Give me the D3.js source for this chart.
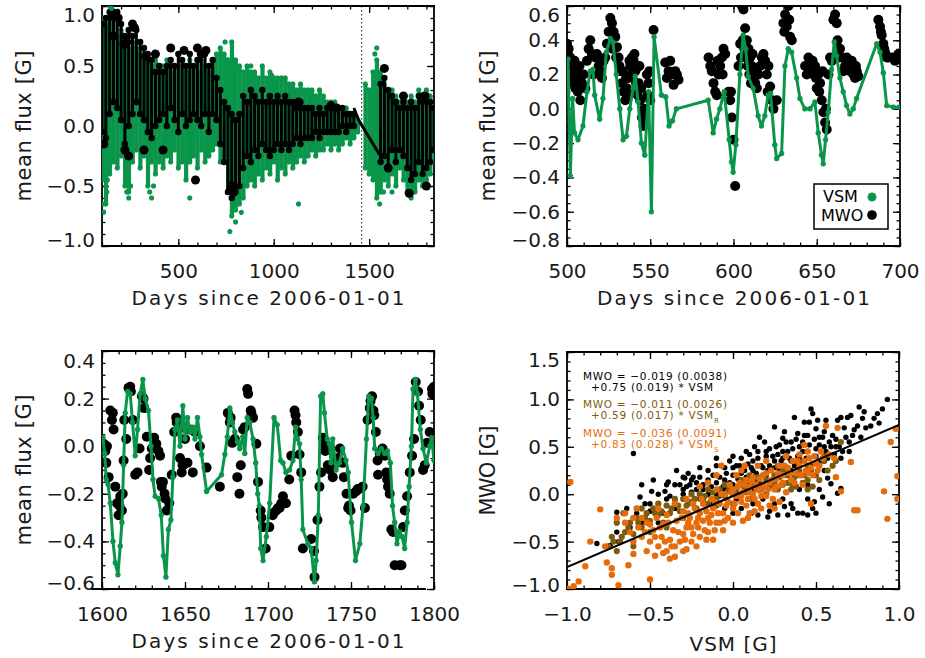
<!DOCTYPE html>
<html><head><meta charset="utf-8">
<script src="https://cdn.jsdelivr.net/npm/d3@7"></script>
<style>body{margin:0;background:#fff}svg{display:block}</style>
</head><body><svg id="c" width="925" height="658"></svg>
<script>
// ---------------- DATA ----------------
// Panel 1 (days 100-1840): VSM / MWO daily spread per 20-day bin
const p1Days = [100,120,140,160,180,200,220,240,260,280,300,320,340,360,380,400,420,440,460,480,500,520,540,560,580,600,620,640,660,680,700,720,740,760,780,800,820,840,860,880,900,920,940,960,980,1000,1020,1040,1060,1080,1100,1120,1140,1160,1180,1200,1220,1240,1260,1280,1300,1320,1340,1360,1380,1400,1420,1440,1460,1480,1500,1520,1540,1560,1580,1600,1620,1640,1660,1680,1700,1720,1740,1760,1780,1800,1820,1840];
const vsmLo = [-0.45,-0.65,-0.4,-0.3,-0.35,-0.25,-0.5,-0.55,-0.3,-0.2,-0.35,-0.25,-0.5,-0.3,-0.4,-0.3,-0.35,-0.25,-0.3,-0.2,-0.35,-0.3,-0.45,-0.3,-0.25,-0.35,-0.2,-0.3,-0.25,-0.2,-0.15,-0.3,-0.25,-0.55,-0.75,-0.7,-0.65,-0.6,-0.5,-0.45,-0.5,-0.4,-0.45,-0.35,-0.4,-0.3,-0.45,-0.35,-0.4,-0.3,-0.35,-0.3,-0.25,-0.3,-0.25,-0.2,-0.25,-0.2,-0.2,-0.15,-0.2,-0.15,-0.2,-0.15,-0.1,-0.15,-0.1,-0.05,null,-0.35,-0.4,-0.45,-0.6,-0.55,-0.45,-0.5,-0.4,-0.5,-0.35,-0.45,-0.55,-0.6,-0.55,-0.45,-0.5,-0.45,-0.4,-0.3];
const vsmHi = [0.9,0.85,0.95,0.9,0.75,0.8,0.7,0.65,0.7,0.65,0.6,0.55,0.6,0.5,0.55,0.45,0.5,0.55,0.45,0.5,0.5,0.55,0.45,0.55,0.5,0.45,0.55,0.5,0.45,0.55,0.6,0.65,0.6,0.55,0.7,0.55,0.5,0.45,0.5,0.45,0.45,0.4,0.5,0.4,0.45,0.4,0.4,0.4,0.4,0.35,0.35,0.3,0.35,0.3,0.3,0.3,0.25,0.3,0.25,0.2,0.2,0.2,0.15,0.15,0.15,0.1,0.1,0.05,null,0.35,0.3,0.45,0.55,0.45,0.35,0.3,0.3,0.25,0.2,0.25,0.2,0.25,0.2,0.3,0.25,0.3,0.25,0.15];
const mwoLo = [-0.05,-0.1,0.1,0.2,0.15,0.05,-0.15,0.0,0.1,0.2,0.1,0.05,-0.05,-0.1,0.0,0.05,0.1,0.0,0.15,0.05,-0.05,0.1,0.0,0.05,0.1,0.05,0.0,0.1,-0.05,0.1,0.05,-0.15,-0.3,-0.55,-0.6,-0.55,-0.5,-0.35,-0.25,-0.3,-0.2,-0.25,-0.15,-0.2,-0.25,-0.2,-0.15,-0.2,-0.15,-0.2,-0.15,-0.1,-0.15,-0.1,-0.1,-0.1,-0.05,-0.1,-0.05,-0.05,-0.05,-0.05,-0.05,0.0,-0.05,0.0,0.0,null,null,null,null,null,null,-0.3,-0.25,-0.35,-0.2,-0.3,-0.2,-0.25,-0.35,-0.45,-0.4,-0.3,-0.4,-0.35,-0.3,-0.2];
const mwoHi = [0.85,0.9,0.95,0.9,0.95,0.85,0.75,0.8,0.75,0.8,0.7,0.65,0.6,0.55,0.45,0.5,0.45,0.5,0.55,0.5,0.6,0.55,0.5,0.6,0.5,0.55,0.6,0.6,0.5,0.55,0.4,0.3,0.2,0.15,0.1,0.05,0.1,0.25,0.2,0.3,0.25,0.2,0.3,0.2,0.25,0.2,0.25,0.2,0.25,0.2,0.2,0.15,0.2,0.15,0.15,0.15,0.1,0.15,0.1,0.15,0.15,0.15,0.15,0.15,0.1,0.1,0.1,null,null,null,null,null,null,0.35,0.4,0.3,0.25,0.2,0.15,0.2,0.15,0.2,0.15,0.25,0.2,0.25,0.2,0.15];
const p1VsmOut = [[105,-0.65],[108,-0.72],[125,-0.55],[128,-0.45],[230,-0.55],[240,-0.6],[250,-0.5],[350,-0.55],[360,-0.6],[370,-0.5],[560,-0.6],[770,-0.88],[800,-0.8],[830,-0.72],[1130,-0.65],[1555,-0.65],[1575,-0.55],[1620,-0.55],[880,0.5],[990,0.42],[745,0.7],[760,0.55],[1540,0.65],[1530,0.6],[140,1.0],[150,0.98]];
const p1MwoOut = [[150,0.95],[170,0.93],[185,0.9],[260,0.85],[270,0.82],[230,0.7],[380,0.6],[460,0.65],[530,0.63],[600,0.65],[620,0.6],[645,0.63],[160,0.75],[215,0.68],[330,0.58],[590,-0.45],[240,-0.25],[220,-0.2],[320,-0.2],[420,-0.2],[780,-0.5],[790,-0.55],[1300,0.17],[1330,0.15],[1580,0.48],[1680,0.25],[1790,0.25],[1800,-0.5],[1710,-0.56],[1600,-0.35],[110,-0.15],[1130,0.2]];
const p1MwoGapLine = [[1420,0.15],[1445,0.05],[1555,-0.24]];
const boundaryDay = 1461;

// Panel 2 (days 500-700)
const vsm2 = [[500.6,0.29],[502,-0.39],[503.4,0.06],[504.5,-0.14],[506.6,-0.18],[509.6,-0.1],[512,0.1],[514,0.22],[515.6,0.23],[516.6,0.08],[519.6,-0.06],[521.6,0.06],[523.6,0.33],[526,0.41],[527.6,0.39],[529.6,0.2],[531.7,0.0],[533.7,-0.18],[535.7,-0.16],[537.7,0.0],[539.7,0.12],[541,0.19],[542.7,0.04],[544.7,-0.2],[546.7,-0.27],[549,0.1],[550.7,-0.6],[552.3,0.42],[556.7,0.08],[559.3,0.07],[561.3,-0.1],[563.3,-0.07],[565.7,0.0],[584.8,0.05],[587.8,-0.14],[589.8,-0.06],[591.8,0.0],[594.4,0.1],[597.4,-0.18],[598.8,-0.31],[599.8,-0.37],[601.4,-0.21],[603.8,0.2],[605.8,0.43],[607.3,0.35],[608.8,0.19],[611.8,0.12],[614.8,-0.04],[616.8,-0.1],[618.8,-0.04],[620.8,0.08],[622.2,0.09],[624.8,-0.21],[625.9,-0.29],[628.9,-0.26],[630.9,0.25],[632.9,0.35],[634.9,0.33],[637.9,0.18],[639.9,0.06],[642.9,0.0],[645.9,0.0],[648.9,0.04],[650.9,-0.14],[652.9,-0.27],[653.9,-0.32],[655.3,-0.18],[656.9,-0.02],[658.9,0.23],[660.5,0.39],[661.9,0.31],[663.9,0.18],[665.9,0.1],[667.9,0.02],[669.9,-0.03],[671.9,0.0],[673.9,0.06],[686,0.38],[688,0.33],[690,0.21],[692,0.02],[696,0.01],[699.6,0.01]];
const mwo2 = [[500,0.38],[501,0.35],[502,0.3],[503,0.25],[504,0.2],[505,0.12],[506,0.18],[507,0.15],[508,0.05],[510,0.2],[512,0.28],[514,0.4],[515,0.32],[517,0.3],[519,0.25],[520,0.22],[522,0.28],[524,0.38],[525,0.45],[526,0.53],[527,0.5],[528,0.45],[529,0.42],[530,0.36],[531,0.3],[532,0.22],[533,0.15],[534,0.1],[535,0.05],[536,0.12],[537,0.18],[538,0.25],[539,0.3],[540,0.28],[541,0.22],[542,0.24],[543,0.15],[544,0.05],[545,-0.05],[546,-0.1],[547,-0.02],[548,0.2],[549,0.15],[550,0.05],[552,0.46],[559,0.27],[561,0.22],[563,0.2],[565,0.22],[567,0.17],[564,0.14],[585,0.3],[587,0.22],[588,0.15],[589,0.1],[590,0.08],[591,0.2],[592,0.25],[593,0.3],[594,0.35],[597,0.1],[598,0.05],[599,-0.05],[600,-0.18],[601,-0.45],[603,0.25],[604,0.38],[605,0.6],[606,0.58],[607,0.47],[608,0.4],[609,0.35],[610,0.3],[611,0.25],[612,0.2],[613,0.15],[614,0.12],[616,0.25],[618,0.32],[619,0.28],[620,0.2],[622,0.13],[624,0.0],[626,0.05],[630,0.5],[631,0.55],[632,0.48],[633,0.6],[634,0.42],[635,0.4],[643,0.25],[645,0.3],[646,0.28],[647,0.22],[648,0.2],[649,0.25],[650,0.12],[651,0.2],[652,0.15],[653,0.05],[654,-0.02],[655,-0.08],[656,-0.12],[657,0.2],[658,0.3],[660,0.52],[661,0.55],[662,0.5],[664,0.35],[665,0.3],[667,0.25],[668,0.3],[670,0.22],[672,0.2],[673,0.18],[674,0.22],[675,0.19],[687,0.52],[688,0.48],[689,0.43],[690,0.38],[691,0.33],[692,0.3],[695,0.3],[698,0.3],[700,0.3],
 [500.5,0.32],[501.5,0.25],[502.5,0.18],[503.5,0.15],[504.5,0.28],[505.5,0.22],[506.5,0.1],[507.5,0.25],[509,0.15],[511,0.12],[513,0.35],[516,0.2],[518,0.32],[521,0.18],[523,0.3],[525.5,0.38],[527.5,0.35],[529.5,0.3],[531.5,0.25],[533.5,0.22],[535.5,0.18],[536.5,0.08],[537.5,0.28],[538.5,0.2],[539.5,0.1],[540.5,0.32],[541.5,0.15],[542.5,0.08],[543.5,0.25],[544.5,0.12],[546.5,0.0],[548.5,0.08],[549.5,0.22],[560,0.18],[562,0.28],[566,0.2],[586,0.25],[590.5,0.28],[593.5,0.2],[595,0.32],[598.5,0.1],[604.5,0.3],[605.5,0.4],[606.5,0.35],[607.5,0.3],[608.5,0.25],[609.5,0.2],[610.5,0.15],[611.5,0.32],[613.5,0.22],[615,0.2],[617,0.3],[620.5,0.1],[621,0.25],[623,0.05],[630.5,0.45],[633.5,0.52],[644,0.2],[645.5,0.22],[647.5,0.28],[649.5,0.18],[651.5,0.1],[653.5,0.22],[655.5,0.0],[659,0.28],[662.5,0.4],[663,0.3],[666,0.22],[669,0.25],[671,0.28],[673.5,0.25],[688.5,0.45],[690.5,0.35],[693,0.3],[697,0.28],[699,0.32]];

// Panel 3 (days 1600-1800)
const vsm3 = [[1600.6,0.035],[1601.6,-0.03],[1602.6,-0.14],[1603.6,-0.16],[1605,-0.24],[1606.6,-0.4],[1608,-0.49],[1609.6,-0.54],[1611,-0.42],[1612,-0.32],[1613,-0.08],[1614,0.14],[1615.4,0.23],[1617,0.22],[1618.4,0.1],[1620,-0.04],[1621.4,0.07],[1623,0.22],[1624.6,0.28],[1626,0.2],[1628,0.15],[1629.5,0.0],[1630.7,-0.14],[1632,-0.21],[1634,-0.22],[1635.7,-0.29],[1637,-0.46],[1638.5,-0.55],[1640,-0.35],[1641.5,-0.31],[1642.7,-0.13],[1644,0.07],[1645.5,0.11],[1647,0.0],[1648.7,0.17],[1650,0.03],[1651.5,0.12],[1653,0.06],[1654.7,0.08],[1656,0.03],[1657.5,0.12],[1659,0.04],[1660,-0.035],[1663,-0.19],[1672,-0.12],[1674,-0.035],[1675.5,0.04],[1677,0.16],[1678.5,0.1],[1680,0.06],[1681.5,0.02],[1683,-0.01],[1684.8,0.04],[1686,-0.03],[1687.5,0.12],[1689,0.1],[1691,0.03],[1692.6,-0.07],[1693.8,-0.2],[1694.8,-0.25],[1695.6,-0.43],[1697,-0.48],[1699,-0.38],[1701,-0.24],[1703.6,0.12],[1705.6,0.09],[1707.6,-0.06],[1709,-0.07],[1710.8,-0.11],[1713,-0.1],[1715,-0.06],[1716.6,0.08],[1717.8,0.03],[1719,0.01],[1720,-0.14],[1721,-0.35],[1724,-0.41],[1726,-0.43],[1728,-0.57],[1729,-0.48],[1730.3,-0.29],[1731.7,0.21],[1733,0.22],[1734,0.14],[1735.7,0.03],[1737,0.01],[1738,-0.07],[1739,0.03],[1741,-0.1],[1743,-0.07],[1745,-0.01],[1747,-0.06],[1748.3,-0.11],[1750.3,-0.32],[1752.7,-0.48],[1755.3,-0.41],[1757.3,-0.25],[1759.3,0.03],[1760.7,0.21],[1762.3,0.2],[1763.3,0.12],[1764.3,-0.01],[1766.3,-0.03],[1768.3,-0.01],[1770.3,-0.03],[1772,-0.02],[1773.7,-0.07],[1775,-0.25],[1776.3,-0.32],[1777.7,-0.41],[1779.3,-0.36],[1780.8,-0.38],[1782.3,-0.43],[1783.8,-0.32],[1785,-0.17],[1786.4,0.0],[1787.4,0.24],[1788.8,0.28],[1790,0.22],[1791.8,0.07],[1793.4,-0.01],[1795.4,-0.07],[1797.4,0.0],[1798.6,0.035],[1800,-0.06]];
const mwo3 = [[1601,0.01],[1602,-0.02],[1602.6,-0.07],[1604,-0.13],[1605,0.15],[1606,0.11],[1607,0.07],[1608,-0.17],[1609,-0.24],[1610,-0.29],[1611,-0.21],[1612,-0.27],[1613,-0.06],[1613.4,0.11],[1614.6,0.03],[1616,0.245],[1617.4,0.23],[1618.6,0.11],[1620,-0.12],[1621.4,-0.11],[1622.6,-0.01],[1624,0.21],[1625.4,0.16],[1627,0.04],[1628.4,-0.1],[1630,-0.01],[1631.4,0.035],[1632.7,0.01],[1634,-0.02],[1635,-0.04],[1635.5,-0.15],[1636.7,-0.15],[1637.7,-0.2],[1639,-0.27],[1640.5,-0.24],[1642,-0.12],[1643.5,0.06],[1644.7,0.12],[1646,0.07],[1647,-0.05],[1648,-0.11],[1649,-0.08],[1650,0.03],[1651.5,-0.07],[1652.7,0.07],[1654.7,-0.11],[1656,0.06],[1659,0.0],[1663,-0.09],[1671,-0.17],[1675.8,0.14],[1677,0.1],[1678.5,0.014],[1680,0.03],[1681.5,-0.13],[1682.8,-0.2],[1683.6,-0.08],[1685,0.07],[1686,0.08],[1687.5,0.24],[1689.6,0.15],[1691,0.12],[1693,0.01],[1694,-0.15],[1695.6,-0.27],[1697,-0.34],[1698.6,-0.43],[1700.8,-0.34],[1702.8,-0.29],[1705,-0.27],[1707,-0.26],[1708,-0.24],[1709,-0.21],[1710.8,-0.24],[1712.8,-0.14],[1714,-0.04],[1716,0.15],[1716.6,0.13],[1718,0.06],[1719,-0.035],[1720,-0.11],[1721,-0.43],[1726,-0.39],[1727.7,-0.44],[1728,-0.55],[1729.8,-0.31],[1731,-0.17],[1732,-0.11],[1733,0.035],[1734.5,-0.02],[1736,-0.08],[1737.5,-0.1],[1739,-0.13],[1741,-0.07],[1743.3,-0.01],[1745,-0.07],[1745.7,-0.13],[1747.3,-0.2],[1748.3,-0.26],[1749.7,-0.27],[1751.3,-0.2],[1753,-0.19],[1755,-0.18],[1757,-0.17],[1758.4,-0.26],[1760,0.11],[1761.3,0.16],[1762.7,0.21],[1764,0.13],[1765,0.06],[1766,-0.06],[1766.3,-0.12],[1767.3,-0.03],[1769,-0.01],[1770.3,-0.04],[1771.3,-0.11],[1772.3,-0.17],[1773.3,-0.2],[1774.3,-0.35],[1775.3,-0.36],[1776.3,-0.5],[1779.4,-0.5],[1781.4,-0.34],[1782.4,-0.27],[1783.8,-0.21],[1785.4,-0.11],[1786.8,-0.04],[1788,0.03],[1789,0.27],[1790.4,0.23],[1792,0.11],[1793.4,-0.1],[1794.4,-0.08],[1795.8,0.014],[1797.4,0.06],[1798.8,0.24],[1800,0.25],
 [1603,0.0],[1606.5,0.14],[1610.5,-0.25],[1612.5,-0.2],[1617,0.25],[1625,0.2],[1629,-0.05],[1636,-0.17],[1638,-0.22],[1645,0.1],[1648.5,-0.08],[1677.5,0.12],[1688,0.22],[1690,0.14],[1696,-0.3],[1703.5,-0.28],[1706,-0.26],[1717,0.1],[1734,0.0],[1742,-0.05],[1748.8,-0.25],[1754,-0.18],[1761.8,0.19],[1763.5,0.15],[1771.8,-0.14],[1780.4,-0.5],[1791,0.17],[1799,0.22]];

// Panel 4: MWO vs VSM scatter
const scatAll = [[0.93,1.0],[0.87,0.85],[0.79,0.87],[0.78,0.8],[0.76,0.92],[0.71,0.83],[0.69,0.81],[0.65,0.81],[0.63,0.78],[0.56,0.78],[0.51,0.78],[0.47,0.9],[0.48,0.85],[0.5,0.69],[0.46,0.76],[0.43,0.76],[0.39,0.64],[0.37,0.81],[0.31,0.66],[0.3,0.59],[0.25,0.71],[0.19,0.55],[0.16,0.6],[0.6,0.62],[0.55,0.66],[0.58,0.55],[0.52,0.6],[0.45,0.62],[0.42,0.55],[0.4,0.5],[0.35,0.55],[0.33,0.45],[0.28,0.52],[0.27,0.42],[0.22,0.48],[0.2,0.4],[0.15,0.45],[0.12,0.35],[0.1,0.42],[0.05,0.38],[0.02,0.3],[-0.02,0.35],[-0.05,0.28],[-0.1,0.3],[-0.12,0.2],[-0.15,0.25],[-0.2,0.18],[-0.25,0.15],[-0.3,0.18],[-0.3,0.05],[-0.35,0.1],[-0.22,0.05],[-0.18,0.1],[-0.1,0.12],[-0.05,0.15],[0.0,0.2],[0.05,0.22],[0.08,0.18],[0.12,0.25],[0.18,0.28],[0.22,0.3],[0.25,0.35],[0.3,0.38],[0.35,0.35],[0.4,0.4],[0.45,0.45],[0.5,0.48],[0.55,0.5],[0.62,0.5],[0.68,0.6],[0.72,0.62],[0.8,0.7],[0.75,0.72],[0.28,0.25],[0.15,0.15],[0.1,0.1],[0.2,0.2],[0.35,0.25],[0.4,0.3],[0.3,0.3],[-0.05,0.05],[0.0,0.1],[-0.15,0.0],[-0.08,-0.02],[-0.6,0.43],[-0.48,0.15],[-0.49,0.03],[-0.56,-0.03],[-0.64,-0.15],[-0.7,-0.19],[-0.82,-0.52],[-0.74,-0.54],[-0.69,-0.5],[-0.41,0.03],[-0.39,0.13],[-0.34,0.25],[-0.29,0.17],[-0.24,0.18],[-0.26,0.1],[-0.55,-0.3],[-0.5,-0.18],[-0.45,-0.1],[-0.4,-0.05],[-0.6,-0.25],[-0.62,-0.35],[-0.45,-0.3],[-0.35,-0.15],[0.11,-0.2],[0.15,-0.22],[0.21,-0.24],[0.27,-0.22],[0.31,-0.13],[0.39,-0.2],[0.42,-0.2],[0.48,-0.15],[0.5,-0.2],[0.49,-0.08],[0.54,-0.03],[0.57,0.17],[0.59,0.11],[0.63,0.01],[0.65,0.06],[0.35,-0.1],[0.25,-0.1],[0.05,-0.15],[0.0,-0.2],[-0.05,-0.15],[0.4,0.05],[0.45,0.1],[0.55,0.25],[0.6,0.3],[0.65,0.38],[0.7,0.45],
 [-0.3,0.0],[-0.28,0.08],[-0.25,0.02],[-0.22,0.12],[-0.2,-0.05],[-0.18,0.05],[-0.15,0.15],[-0.13,0.08],[-0.1,0.0],[-0.08,0.18],[-0.06,0.08],[-0.04,0.22],[-0.02,0.12],[0.0,0.28],[0.01,0.05],[0.03,0.16],[0.04,0.3],[0.06,0.1],[0.07,0.25],[0.09,0.32],[0.1,0.18],[0.11,0.28],[0.13,0.05],[0.14,0.22],[0.15,0.38],[0.16,0.12],[0.17,0.3],[0.19,0.2],[0.2,0.45],[0.21,0.25],[0.23,0.15],[0.24,0.4],[0.25,0.28],[0.26,0.5],[0.27,0.2],[0.29,0.35],[0.3,0.45],[0.31,0.28],[0.32,0.55],[0.33,0.2],[0.34,0.38],[0.36,0.48],[0.37,0.3],[0.38,0.58],[0.39,0.4],[0.41,0.35],[0.42,0.45],[0.43,0.62],[0.44,0.38],[0.46,0.52],[0.47,0.3],[0.49,0.58],[0.5,0.4],[0.52,0.52],[0.53,0.35],[0.54,0.6],[0.56,0.45],[0.57,0.38],[0.59,0.5],[0.61,0.42],[0.62,0.58],[0.64,0.5],[0.66,0.45],[0.67,0.7],[0.7,0.55],[0.73,0.68],[0.77,0.6],[0.83,0.72],[0.85,0.8],[0.88,0.75],[0.9,0.9],[-0.35,-0.05],[-0.4,0.1],[-0.45,0.0],[-0.5,-0.1],[-0.38,-0.02],[-0.32,0.1],[-0.27,0.22],[-0.2,0.28],[-0.1,0.38],[0.0,0.4],[0.08,0.45],[0.13,0.5],[-0.12,-0.1],[0.02,-0.05],[0.12,-0.1],[0.18,-0.05],[0.22,-0.18],[0.3,-0.05],[0.36,-0.15],[0.45,-0.05],[0.52,0.05],[0.58,-0.1],[0.45,-0.22],[0.33,-0.22],[-0.7,-0.4],[-0.65,-0.3],[-0.58,-0.2],[-0.53,-0.1],[-0.42,-0.2],[-0.55,0.1]];
const scatR = [[-0.75,-0.55],[-0.73,-0.45],[-0.7,-0.6],[-0.68,-0.5],[-0.65,-0.4],[-0.7,-0.3],[-0.66,-0.2],[-0.62,-0.3],[-0.6,-0.42],[-0.58,-0.25],[-0.55,-0.35],[-0.52,-0.2],[-0.5,-0.28],[-0.48,-0.15],[-0.45,-0.22],[-0.42,-0.3],[-0.4,-0.12],[-0.38,-0.2],[-0.35,-0.1],[-0.32,-0.18],[-0.3,-0.05],[-0.28,-0.12],[-0.25,-0.08],[-0.22,-0.15],[-0.2,0.0],[-0.18,-0.06],[-0.15,-0.1],[-0.12,0.02],[-0.1,-0.05],[-0.08,0.05],[-0.05,-0.02],[-0.02,0.08],[0.0,0.0],[0.02,0.05],[0.05,0.1],[0.08,0.02],[0.1,0.08],[0.12,0.12],[0.15,0.05],[0.18,0.1],[0.2,0.15],[0.22,0.08],[0.25,0.12],[0.28,0.18],[0.3,0.1],[0.32,0.2],[0.35,0.15],[0.38,0.08],[0.4,0.2],[0.42,0.12],[0.45,0.15],[0.48,0.08],[0.5,0.2],[0.35,0.05],[0.3,0.25],[0.25,0.2],[0.15,0.18],[0.05,0.15],[-0.05,0.1],[-0.15,0.05],[-0.25,0.0],[-0.35,-0.05],[-0.45,-0.1],[-0.55,-0.15],[0.55,0.35],[0.6,0.3],[0.45,0.3],[0.2,0.0],[0.1,-0.05],[0.0,-0.1],[-0.1,-0.12],[-0.3,-0.25],[-0.4,-0.35],[-0.5,-0.4],[-0.6,-0.55],[0.65,0.55],[0.55,0.4],[0.1,0.2],
 [-0.72,-0.5],[-0.67,-0.45],[-0.63,-0.35],[-0.57,-0.3],[-0.53,-0.25],[-0.47,-0.2],[-0.43,-0.18],[-0.37,-0.15],[-0.33,-0.12],[-0.27,-0.1],[-0.23,-0.05],[-0.17,-0.02],[-0.13,-0.05],[-0.07,0.0],[-0.03,0.03],[0.03,0.0],[0.07,0.05],[0.13,0.08],[0.17,0.05],[0.23,0.1],[0.27,0.05],[0.33,0.12],[0.37,0.18],[0.43,0.2],[0.47,0.25],[0.52,0.15],[0.57,0.25],[0.62,0.35],[0.33,0.25],[0.27,0.3],[0.4,0.25],[0.36,0.1],[0.45,0.05]];
const scatS = [[-0.99,-1.0],[-0.96,-0.97],[-0.93,-0.92],[-0.98,0.13],[-0.8,-0.16],[-0.89,-0.76],[-0.73,-0.78],[-0.73,-0.85],[-0.69,-0.96],[-0.76,-0.72],[-0.77,-0.55],[-0.5,-0.9],[-0.86,-0.5],[-0.6,-0.63],[-0.63,-0.75],[0.98,0.69],[0.95,0.55],[0.99,0.19],[0.99,-0.05],[0.91,0.03],[0.93,-0.26],[0.75,-0.17],[0.73,-0.17],[0.71,0.34],[0.65,0.03],[0.61,0.38],[0.62,0.18],[0.56,0.72],[0.63,0.7],[0.43,0.52],[0.54,0.38],[0.52,0.3],[0.58,0.42],[0.47,-0.1],[-0.6,-0.25],[-0.57,-0.35],[-0.55,-0.45],[-0.52,-0.3],[-0.5,-0.5],[-0.48,-0.38],[-0.46,-0.25],[-0.45,-0.55],[-0.43,-0.45],[-0.42,-0.32],[-0.4,-0.6],[-0.4,-0.22],[-0.38,-0.48],[-0.36,-0.38],[-0.35,-0.66],[-0.34,-0.28],[-0.32,-0.5],[-0.3,-0.18],[-0.3,-0.42],[-0.28,-0.35],[-0.26,-0.25],[-0.25,-0.5],[-0.23,-0.15],[-0.22,-0.3],[-0.2,-0.45],[-0.2,-0.2],[-0.18,-0.1],[-0.17,-0.38],[-0.15,-0.25],[-0.13,-0.05],[-0.12,-0.15],[-0.1,-0.3],[-0.1,0.05],[-0.08,-0.1],[-0.06,-0.2],[-0.05,0.0],[-0.03,-0.08],[-0.02,0.1],[0.0,-0.15],[0.0,0.05],[0.02,-0.02],[0.04,0.12],[0.05,-0.08],[0.06,0.02],[0.08,0.15],[0.09,-0.05],[0.1,0.08],[0.12,0.0],[0.12,0.18],[0.14,0.1],[0.15,-0.1],[0.16,0.04],[0.18,0.2],[0.19,0.08],[0.2,-0.02],[0.22,0.12],[0.23,0.25],[0.25,0.05],[0.26,0.16],[0.28,0.3],[0.29,0.1],[0.3,0.2],[0.32,0.02],[0.33,0.28],[0.35,0.15],[0.36,0.35],[0.38,0.22],[0.4,0.3],[0.42,0.1],[0.44,0.25],[0.46,0.38],[0.48,0.2],[0.5,0.32],[-0.28,-0.05],[-0.15,0.12],[0.05,0.25],[0.15,0.3],[-0.35,-0.1],[-0.25,-0.35],[-0.05,-0.28],[0.1,-0.2],[0.22,-0.12],[0.28,-0.08],[0.0,-0.3],[-0.15,-0.4],[-0.1,0.2],[0.2,0.35],[-0.45,-0.15],[-0.58,-0.15],[-0.65,-0.2],[-0.42,-0.62],[-0.28,-0.58],[-0.35,-0.55],[0.02,0.2],[0.32,0.4],[-0.07,0.3],[-0.2,0.08],[0.07,0.3],
 [-0.27,-0.2],[-0.24,-0.1],[-0.21,-0.25],[-0.19,-0.05],[-0.16,-0.18],[-0.14,-0.3],[-0.11,-0.08],[-0.09,-0.2],[-0.07,0.0],[-0.04,-0.12],[-0.01,0.02],[0.01,-0.1],[0.03,0.08],[0.05,-0.02],[0.07,0.1],[0.08,-0.12],[0.1,0.02],[0.11,0.14],[0.13,-0.05],[0.14,0.06],[0.16,0.16],[0.17,-0.02],[0.18,0.08],[0.2,0.22],[0.21,0.05],[0.23,0.15],[0.24,-0.05],[0.26,0.08],[0.27,0.22],[0.3,0.12],[0.31,0.3],[0.34,0.22],[0.37,0.12],[0.39,0.35],[0.41,0.2],[0.43,0.35],[0.45,0.22],[0.47,0.28],[0.49,0.4],[0.51,0.25],[0.53,0.45],[0.45,0.45],[0.4,0.42],[-0.55,-0.25],[-0.53,-0.4],[-0.5,-0.32],[-0.47,-0.45],[-0.44,-0.35],[-0.41,-0.5],[-0.39,-0.3],[-0.37,-0.55],[-0.33,-0.4],[-0.31,-0.25],[-0.29,-0.48],[-0.27,-0.3],[-0.24,-0.42],[-0.21,-0.35],[-0.18,-0.28],[-0.16,-0.48],[-0.13,-0.22],[-0.11,-0.38],[-0.08,-0.3],[-0.06,-0.38],[-0.03,-0.25],[0.03,-0.2],[0.06,-0.28],[0.09,-0.25],[0.13,-0.18],[0.17,-0.15],[0.25,-0.15],[-0.62,-0.4],[-0.65,-0.3],[-0.7,-0.25],[-0.6,-0.5],[-0.52,-0.6],[-0.47,-0.65],[-0.38,-0.68],[-0.3,-0.6],[-0.22,-0.55],[-0.12,-0.48]];
const fitIntercept = -0.019, fitSlope = 0.75;
const eqLines = [
  {t:"MWO = −0.019 (0.0038)", sub:"", c:"black"},
  {t:"+0.75 (0.019) * VSM", sub:"", c:"black"},
  {t:"MWO = −0.011 (0.0026)", sub:"", c:"olive"},
  {t:"+0.59 (0.017) * VSM", sub:"R", c:"olive"},
  {t:"MWO = −0.036 (0.0091)", sub:"", c:"orange"},
  {t:"+0.83 (0.028) * VSM", sub:"S", c:"orange"}
];
const p1XTicks=[500,1000,1500], p1YTicks=[-1.0,-0.5,0.0,0.5,1.0];
const p2XTicks=[500,550,600,650,700], p2YTicks=[-0.8,-0.6,-0.4,-0.2,0.0,0.2,0.4,0.6];
const p3XTicks=[1600,1650,1700,1750,1800], p3YTicks=[-0.6,-0.4,-0.2,0.0,0.2,0.4];
const p4XTicks=[-1.0,-0.5,0.0,0.5,1.0], p4YTicks=[-1.0,-0.5,0.0,0.5,1.0,1.5];
const xTitle="Days since 2006-01-01", yTitle="mean flux [G]";

// ---------------- DRAW ----------------
const FONT="DejaVu Sans, sans-serif";
const COL={green:"#0a964a", black:"#000", olive:"#7b5b0e", orange:"#e56c0c"};
const svg=d3.select("#c");
const f1=d3.format(".1f"), fd=d3.format("d");

function scales(xd,xr,yd,yr){return {x:d3.scaleLinear().domain(xd).range(xr), y:d3.scaleLinear().domain(yd).range(yr)};}
function minors(dom, step){const a=[];const n0=Math.ceil(dom[0]/step-1e-6), n1=Math.floor(dom[1]/step+1e-6);for(let i=n0;i<=n1;i++)a.push(+(i*step).toFixed(6));return a;}

function frame(p, id, xMaj, xStep, yMaj, yStep, xFmt, yFmt, nTop, nBot, opt={}){
  const [L,R]=p.x.range(), [B,T]=p.y.range();
  const g=svg.append("g");
  const add=(axis,tr)=>{const a=g.append("g").attr("transform",tr).call(axis);a.select(".domain").remove();
    a.selectAll(".tick line").attr("stroke","#000").attr("stroke-width",1.3);
    a.selectAll("text").attr("font-size",20).attr("font-family",FONT).attr("fill","#1a1a1a");return a;};
  const xm=minors(p.x.domain(),xStep), ym=minors(p.y.domain(),yStep);
  add(d3.axisBottom(p.x).tickValues(xm).tickSize(-3.5).tickFormat(""),`translate(0,${B})`);
  add(d3.axisTop(p.x).tickValues(xm).tickSize(-3.5).tickFormat(""),`translate(0,${T})`);
  add(d3.axisLeft(p.y).tickValues(ym).tickSize(-3.5).tickFormat(""),`translate(${L},0)`);
  add(d3.axisRight(p.y).tickValues(ym).tickSize(-3.5).tickFormat(""),`translate(${R},0)`);
  add(d3.axisBottom(p.x).tickValues(xMaj).tickSize(-7).tickPadding(18).tickFormat(xFmt),`translate(0,${B})`);
  add(d3.axisTop(p.x).tickValues(xMaj).tickSize(-7).tickFormat(""),`translate(0,${T})`);
  const yl=add(d3.axisLeft(p.y).tickValues(yMaj).tickSize(-7).tickPadding(7).tickFormat(yFmt),`translate(${L},0)`);
  add(d3.axisRight(p.y).tickValues(yMaj).tickSize(-7).tickFormat(""),`translate(${R},0)`);
  yl.selectAll("text").attr("y",d=>d===yMaj[0]?-nBot:(d===yMaj[yMaj.length-1]?nTop:0));
  const ln=(x1,y1,x2,y2)=>g.append("line").attr("x1",x1).attr("y1",y1).attr("x2",x2).attr("y2",y2).attr("stroke","#000").attr("stroke-width",1.8).attr("stroke-linecap","square");
  ln(L,T,R,T); ln(L,T,L,B); ln(R,T,R,B);
  if(opt.bottomShift) ln(L-opt.bottomShift[0],B,R-opt.bottomShift[1],B); else ln(L,B,R,B);
  svg.append("clipPath").attr("id",id).append("rect").attr("x",L).attr("y",T).attr("width",R-L).attr("height",B-T);
  return g;
}
function titles(p, xt, yt, xb, xw, yx, yw){
  const [L,R]=p.x.range(), [B,T]=p.y.range();
  svg.append("text").attr("x",(L+R)/2).attr("y",xb).attr("text-anchor","middle").attr("font-size",20).attr("font-family",FONT).attr("fill","#1a1a1a")
    .attr("textLength",xw).attr("lengthAdjust","spacing").text(xt);
  svg.append("text").attr("transform",`translate(${yx},${(T+B)/2}) rotate(-90)`).attr("text-anchor","middle").attr("font-size",21).attr("font-family",FONT).attr("fill","#1a1a1a")
    .attr("textLength",yw).attr("lengthAdjust","spacing").text(yt);
}
function asterisk(s){const a=s/2,b=a*0.72;return `M${-a},0L${a},0M0,${-a}L0,${a}M${-b},${-b}L${b},${b}M${-b},${b}L${b},${-b}`;}

// ---- Panel 1
const p1=scales([100,1840],[102,434],[-1,1],[246,6]);
frame(p1,"c1",p1XTicks,100,p1YTicks,0.1,fd,f1,9,6);
titles(p1,xTitle,yTitle,305,273,31,151);
{
  const g=svg.append("g").attr("clip-path","url(#c1)");
  const w=p1.x(p1Days[1])-p1.x(p1Days[0]);
  const rows=p1Days.map((d,i)=>({d,gl:vsmLo[i],gh:vsmHi[i],bl:mwoLo[i],bh:mwoHi[i]}));
  const gr=rows.filter(r=>r.gl!=null), br=rows.filter(r=>r.bl!=null);
  g.selectAll("rect.gv").data(gr).join("rect").attr("class","gv")
    .attr("x",r=>p1.x(r.d)-w/2).attr("width",w+0.4).attr("y",r=>p1.y(r.gh)).attr("height",r=>p1.y(r.gl)-p1.y(r.gh))
    .attr("fill",COL.green);
  g.selectAll("path.ge").data(gr.flatMap(r=>[[r.d,r.gh],[r.d,r.gl]])).join("path").attr("class","ge")
    .attr("transform",d=>`translate(${p1.x(d[0])},${p1.y(d[1])})`).attr("d",asterisk(5)).attr("stroke",COL.green).attr("stroke-width",1.8);
  g.selectAll("rect.bv").data(br).join("rect").attr("class","bv")
    .attr("x",r=>p1.x(r.d)-w*0.4).attr("width",w*0.8).attr("y",r=>p1.y(r.bh)).attr("height",r=>p1.y(r.bl)-p1.y(r.bh))
    .attr("fill","#000");
  g.selectAll("circle.be").data(br.flatMap(r=>[[r.d,r.bh],[r.d,r.bl]])).join("circle").attr("class","be")
    .attr("cx",d=>p1.x(d[0])).attr("cy",d=>p1.y(d[1])).attr("r",3.2).attr("fill","#000");
  g.append("path").datum(p1MwoGapLine).attr("d",d3.line().x(d=>p1.x(d[0])).y(d=>p1.y(d[1])))
    .attr("fill","none").attr("stroke","#000").attr("stroke-width",3);
  g.selectAll("circle.bo").data(p1MwoOut).join("circle").attr("class","bo").attr("cx",d=>p1.x(d[0])).attr("cy",d=>p1.y(d[1])).attr("r",4.5).attr("fill","#000");
  g.selectAll("path.ast").data(p1VsmOut).join("path").attr("class","ast").attr("transform",d=>`translate(${p1.x(d[0])},${p1.y(d[1])})`)
    .attr("d",asterisk(5)).attr("stroke",COL.green).attr("stroke-width",1.8);
  g.append("line").attr("x1",p1.x(boundaryDay)).attr("x2",p1.x(boundaryDay)).attr("y1",p1.y(1)).attr("y2",p1.y(-1))
    .attr("stroke","#000").attr("stroke-width",1).attr("stroke-dasharray","1.5 2.5");
}

// ---- Panel 2 & 3
function seriesPanel(p, id, vsm, mwo){
  const g=svg.append("g").attr("clip-path",`url(#${id})`);
  g.selectAll("circle").data(mwo).join("circle").attr("cx",d=>p.x(d[0])).attr("cy",d=>p.y(d[1])).attr("r",5).attr("fill","#000");
  g.append("path").datum(vsm).attr("d",d3.line().x(d=>p.x(d[0])).y(d=>p.y(d[1])))
    .attr("fill","none").attr("stroke",COL.green).attr("stroke-width",3).attr("stroke-linejoin","round");
  g.selectAll("path.ast").data(vsm).join("path").attr("class","ast").attr("transform",d=>`translate(${p.x(d[0])},${p.y(d[1])})`)
    .attr("d",asterisk(5.5)).attr("stroke",COL.green).attr("stroke-width",1.6);
}
const p2=scales([500,700],[567,900],[-0.8,0.6],[246,6]);
frame(p2,"c2",p2XTicks,10,p2YTicks,0.05,fd,f1,9,6);
titles(p2,xTitle,yTitle,305,273,495,151);
seriesPanel(p2,"c2",vsm2,mwo2);
{
  const g=svg.append("g");
  g.append("rect").attr("x",814).attr("y",184).attr("width",74).attr("height",45).attr("fill","#fff").attr("stroke","#000").attr("stroke-width",1.5);
  g.append("text").attr("x",823).attr("y",202).attr("font-size",16).attr("font-family",FONT).text("VSM");
  g.append("text").attr("x",821).attr("y",221).attr("font-size",16).attr("font-family",FONT).text("MWO");
  g.append("path").attr("transform","translate(872,197)").attr("d",asterisk(9)).attr("stroke",COL.green).attr("stroke-width",2.6);
  g.append("circle").attr("cx",872).attr("cy",215).attr("r",4.8).attr("fill","#000");
}

const p3=scales([1600,1800],[102,434],[-0.6,0.4],[589,351]);
frame(p3,"c3",p3XTicks,10,p3YTicks,0.05,fd,f1,10,6,{bottomShift:[10,9]});
titles(p3,xTitle,yTitle,648,273,31,151);
seriesPanel(p3,"c3",vsm3,mwo3);

// ---- Panel 4
const p4=scales([-1,1],[567,899],[-1,1.5],[589,352]);
frame(p4,"c4",p4XTicks,0.1,p4YTicks,0.1,f1,f1,8,4);
titles(p4,"VSM [G]","MWO [G]",651,87,495,90);
{
  const g=svg.append("g").attr("clip-path","url(#c4)");
  const dot=(data,col,r)=>g.append("g").selectAll("circle").data(data).join("circle")
    .attr("cx",d=>p4.x(d[0])).attr("cy",d=>p4.y(d[1])).attr("r",r).attr("fill",col);
  dot(scatAll,"#000",2.7);
  dot(scatR,COL.olive,3.1);
  dot(scatS,COL.orange,3.2);
  g.append("line").attr("x1",p4.x(-1)).attr("y1",p4.y(fitIntercept+fitSlope*-1)).attr("x2",p4.x(1)).attr("y2",p4.y(fitIntercept+fitSlope*1))
    .attr("stroke","#000").attr("stroke-width",2.2);
  const pos=[[583,380,144],[591,391,122],[583,408,144],[591,419,122],[583,437,144],[591,448,122]];
  eqLines.forEach((e,i)=>{
    svg.append("text").attr("x",pos[i][0]).attr("y",pos[i][1]).attr("font-size",10.5).attr("font-family",FONT)
      .attr("fill",COL[e.c]).attr("textLength",pos[i][2]).attr("lengthAdjust","spacing").text(e.t);
    if(e.sub) svg.append("text").attr("x",pos[i][0]+pos[i][2]+1).attr("y",pos[i][1]+4).attr("font-size",7).attr("font-family",FONT).attr("fill",COL[e.c]).text(e.sub);
  });
}
</script></body></html>
